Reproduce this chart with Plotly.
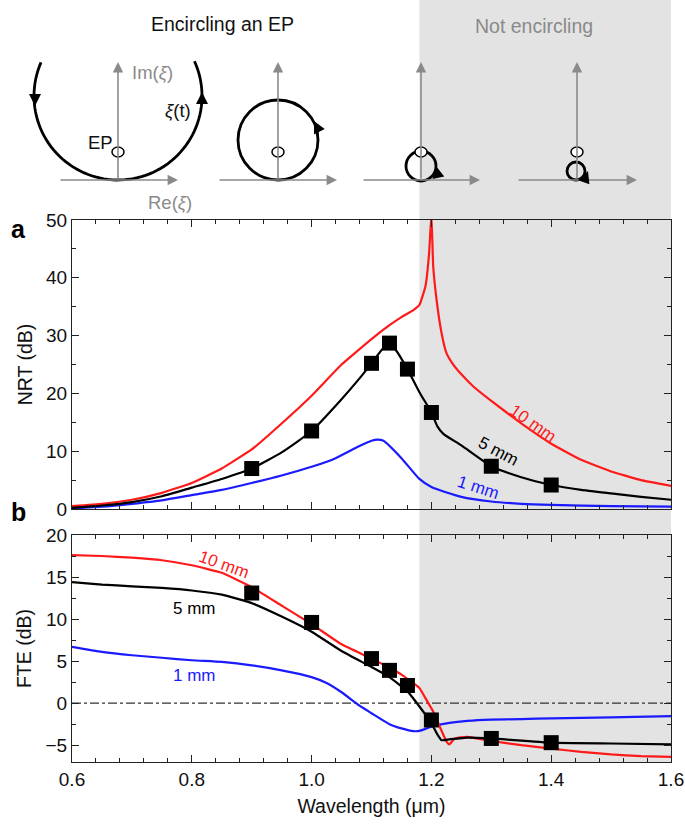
import numpy as np
import plotly.graph_objects as go

# ---- dane: panel a (NRT) ----
lam_red_a = [0.60, 0.65, 0.70, 0.75, 0.80, 0.85, 0.90, 0.95, 1.00, 1.05, 1.10, 1.13, 1.15, 1.17,
             1.18, 1.19, 1.196, 1.200, 1.203, 1.209, 1.217, 1.225, 1.235, 1.25, 1.27, 1.30, 1.35,
             1.40, 1.45, 1.50, 1.55, 1.60]
nrt_red = [0.5, 0.9, 1.6, 2.8, 4.5, 7.0, 10.3, 14.8, 19.6, 25.0, 29.4, 31.8, 33.2, 34.4,
           35.3, 38.5, 44.0, 51.0, 42.0, 35.9, 30.4, 27.0, 25.2, 23.3, 21.2, 18.7, 14.8,
           11.3, 8.5, 6.5, 5.0, 4.0]

lam_blk_a = [0.60, 0.65, 0.70, 0.75, 0.80, 0.85, 0.90, 0.95, 1.00, 1.05, 1.08, 1.10, 1.12, 1.13,
             1.14, 1.16, 1.18, 1.20, 1.21, 1.22, 1.25, 1.30, 1.35, 1.40, 1.45, 1.50, 1.55, 1.60]
nrt_blk = [0.2, 0.6, 1.2, 2.2, 3.7, 5.2, 7.0, 9.8, 13.5, 19.0, 22.6, 25.2, 27.9, 28.6,
           27.6, 24.2, 20.2, 16.7, 14.3, 13.0, 11.0, 7.4, 5.5, 4.15, 3.3, 2.7, 2.1, 1.6]

lam_blu_a = [0.60, 0.65, 0.70, 0.75, 0.80, 0.85, 0.90, 0.95, 1.00, 1.04, 1.08, 1.10, 1.11, 1.12,
             1.15, 1.18, 1.20, 1.25, 1.30, 1.35, 1.40, 1.50, 1.60]
nrt_blu = [0.1, 0.4, 0.9, 1.5, 2.4, 3.3, 4.5, 5.8, 7.3, 8.8, 10.9, 11.8, 12.0, 11.8,
           8.8, 5.2, 3.8, 2.1, 1.3, 0.9, 0.7, 0.5, 0.4]

# ---- dane: panel b (FTE) ----
lam_red_b = [0.60, 0.65, 0.70, 0.75, 0.80, 0.85, 0.90, 0.95, 1.00, 1.05, 1.10, 1.13, 1.15, 1.18,
             1.19, 1.203, 1.214, 1.2255, 1.23, 1.239, 1.26, 1.30, 1.35, 1.40, 1.45, 1.50, 1.55, 1.60]
fte_red = [17.6, 17.5, 17.3, 17.0, 16.4, 15.5, 13.8, 11.6, 9.4, 7.0, 5.3, 4.2, 3.4, 1.8,
           0.6, -1.0, -2.8, -4.6, -4.9, -4.2, -4.0, -4.5, -5.0, -5.4, -5.8, -6.1, -6.3, -6.4]

lam_blk_b = [0.60, 0.65, 0.70, 0.75, 0.80, 0.85, 0.90, 0.95, 1.00, 1.05, 1.10, 1.13, 1.16, 1.18,
             1.20, 1.209, 1.217, 1.23, 1.26, 1.30, 1.40, 1.50, 1.60]
fte_blk = [14.4, 14.1, 13.9, 13.7, 13.4, 12.9, 11.9, 10.3, 8.5, 6.2, 4.3, 3.1, 1.4, -0.4,
           -2.4, -3.6, -4.4, -4.3, -4.1, -4.2, -4.7, -4.8, -4.9]

lam_blu_b = [0.60, 0.65, 0.70, 0.75, 0.80, 0.85, 0.90, 0.95, 1.00, 1.025, 1.05, 1.08, 1.10, 1.13,
             1.15, 1.17, 1.18, 1.20, 1.23, 1.26, 1.30, 1.35, 1.40, 1.50, 1.60]
fte_blu = [6.7, 6.1, 5.7, 5.4, 5.1, 4.9, 4.5, 3.9, 3.1, 2.4, 1.3, -0.3, -1.2, -2.5,
           -3.0, -3.33, -3.3, -2.8, -2.35, -2.1, -1.95, -1.9, -1.8, -1.7, -1.55]

# pomiary (kwadraty)
lam_meas = [0.9, 1.0, 1.1, 1.13, 1.16, 1.2, 1.3, 1.4]
nrt_meas = [7.0, 13.5, 25.2, 28.7, 24.2, 16.7, 7.4, 4.15]
fte_meas = [13.1, 9.6, 5.3, 3.9, 2.1, -2.0, -4.2, -4.7]

x_ticks = [0.6, 0.8, 1.0, 1.2, 1.4, 1.6]
shade_from = 1.18

RED = "#ff1a1a"
BLUE = "#1a1aff"
GRAY = "#8a8a8a"
FONT = "Liberation Sans, Arial, sans-serif"

W, H = 685, 827
ML, MR, MT, MB = 72, 14, 0, 65
PW = W - ML - MR
PH = H - MT - MB


def px(x):
    # piksel -> paper (poziomo)
    return (x - ML) / PW


def py(y):
    # piksel -> paper (pionowo)
    return (PH + MT - y) / PH


fig = go.Figure()

# panel a
fig.add_trace(go.Scatter(x=lam_red_a, y=nrt_red, mode="lines",
                         line=dict(color=RED, width=2.2, shape="spline", smoothing=0.3),
                         xaxis="x2", yaxis="y2"))
fig.add_trace(go.Scatter(x=lam_blu_a, y=nrt_blu, mode="lines",
                         line=dict(color=BLUE, width=2.2, shape="spline", smoothing=0.6),
                         xaxis="x2", yaxis="y2"))
fig.add_trace(go.Scatter(x=lam_blk_a, y=nrt_blk, mode="lines",
                         line=dict(color="black", width=2.2, shape="spline", smoothing=0.5),
                         xaxis="x2", yaxis="y2"))
fig.add_trace(go.Scatter(x=lam_meas, y=nrt_meas, mode="markers",
                         marker=dict(symbol="square", size=15, color="black"),
                         xaxis="x2", yaxis="y2"))

# panel b
fig.add_trace(go.Scatter(x=[0.6, 1.6], y=[0, 0], mode="lines",
                         line=dict(color="#333333", width=1.2, dash="dashdot")))
fig.add_trace(go.Scatter(x=lam_blu_b, y=fte_blu, mode="lines",
                         line=dict(color=BLUE, width=2.2, shape="spline", smoothing=0.5)))
fig.add_trace(go.Scatter(x=lam_red_b, y=fte_red, mode="lines",
                         line=dict(color=RED, width=2.2, shape="spline", smoothing=0.4)))
fig.add_trace(go.Scatter(x=lam_blk_b, y=fte_blk, mode="lines",
                         line=dict(color="black", width=2.2, shape="spline", smoothing=0.4)))
fig.add_trace(go.Scatter(x=lam_meas, y=fte_meas, mode="markers",
                         marker=dict(symbol="square", size=15, color="black")))

shapes = []
annotations = []

# szare tlo "Not encircling"
shapes.append(dict(type="rect", xref="x", yref="paper", x0=shade_from, x1=1.6 + 2 / PW,
                   y0=0, y1=1, fillcolor="#e3e3e3", line=dict(width=0), layer="below"))

# ---- schematy na gorze ----
# (os_x0, os_x1, os_y, os_pion_x, gora_osi)
schem_axes = [(59, 178, 180, 118, 62), (218, 337, 180, 278, 62),
              (362, 480, 180, 421, 62), (517, 637, 180, 577, 62)]
ep_pos = [(118, 152), (278, 152), (421, 152), (577, 152)]
loops = [(278, 140, 40), (421, 166, 15), (576, 171, 9)]

for x0, x1, yy, xv, ytop in schem_axes:
    annotations.append(dict(xref="paper", yref="paper", x=px(x1), y=py(yy), ax=x0 - x1, ay=0,
                            axref="pixel", ayref="pixel", text="", showarrow=True,
                            arrowhead=2, arrowsize=1.3, arrowwidth=1.6, arrowcolor=GRAY))
    annotations.append(dict(xref="paper", yref="paper", x=px(xv), y=py(ytop), ax=0, ay=yy - ytop,
                            axref="pixel", ayref="pixel", text="", showarrow=True,
                            arrowhead=2, arrowsize=1.3, arrowwidth=1.6, arrowcolor=GRAY))

# duzy luk wokol EP
cx, cy, r = 118, 96, 84
th = np.radians(np.linspace(-24.4, 203.6, 80))
pts = [(px(cx + r * np.cos(t)), py(cy + r * np.sin(t))) for t in th]
path = "M " + " L ".join(f"{a:.5f},{b:.5f}" for a, b in pts)
shapes.append(dict(type="path", xref="paper", yref="paper", path=path,
                   line=dict(color="black", width=2.8)))

for cx, cy, r in loops:
    shapes.append(dict(type="circle", xref="paper", yref="paper",
                       x0=px(cx - r), x1=px(cx + r), y0=py(cy + r), y1=py(cy - r),
                       line=dict(color="black", width=2.8)))

for ex, ey in ep_pos:
    shapes.append(dict(type="circle", xref="paper", yref="paper",
                       x0=px(ex - 6), x1=px(ex + 6), y0=py(ey + 5), y1=py(ey - 5),
                       fillcolor="white", line=dict(color="black", width=1.5)))

# strzalki kierunku na petlach: (x, y, ax, ay)
loop_arrows = [(35, 106, 0, -12), (202, 92, 0, 12), (314, 121, 5, 10),
               (436, 166, 2, 10), (588, 171, -3, 8)]
for x, y, dx, dy in loop_arrows:
    annotations.append(dict(xref="paper", yref="paper", x=px(x), y=py(y), ax=dx, ay=dy,
                            axref="pixel", ayref="pixel", text="", showarrow=True,
                            arrowhead=2, arrowsize=1.2, arrowwidth=2, arrowcolor="black"))

txt = [
    ("Encircling an EP", 222, 24, 19.5, "#111111"),
    ("Not encircling", 534, 26, 19.5, GRAY),
    ("Im(<i>ξ</i>)", 152, 72, 18.5, GRAY),
    ("Re(<i>ξ</i>)", 170, 202, 18.5, GRAY),
    ("<i>ξ</i>(t)", 178, 111, 18.5, "#111111"),
    ("EP", 100, 143, 18.5, "#111111"),
]
for t, x, y, s, c in txt:
    annotations.append(dict(xref="paper", yref="paper", x=px(x), y=py(y), text=t,
                            showarrow=False, font=dict(size=s, color=c, family=FONT),
                            xanchor="center", yanchor="middle"))

# etykiety krzywych
curve_labels = [
    ("10 mm", 1.370, 14.8, 35, RED, "x2", "y2"),
    ("5 mm", 1.312, 9.9, 28, "black", "x2", "y2"),
    ("1 mm", 1.278, 3.75, 18, BLUE, "x2", "y2"),
    ("10 mm", 0.853, 16.5, 20, RED, "x", "y"),
    ("5 mm", 0.805, 11.2, 0, "black", "x", "y"),
    ("1 mm", 0.805, 3.3, 0, BLUE, "x", "y"),
]
for t, x, y, ang, c, xr, yr in curve_labels:
    annotations.append(dict(xref=xr, yref=yr, x=x, y=y, text=t, textangle=ang, showarrow=False,
                            font=dict(size=17, color=c, family=FONT)))

# litery paneli
annotations.append(dict(xref="paper", yref="paper", x=px(9), y=py(213), text="<b>a</b>",
                        showarrow=False, font=dict(size=25, color="black", family=FONT)))
annotations.append(dict(xref="paper", yref="paper", x=px(9), y=py(528), text="<b>b</b>",
                        showarrow=False, font=dict(size=25, color="black", family=FONT)))

axis_common = dict(showline=True, linecolor="#222222", linewidth=1.2, mirror="allticks",
                   ticks="inside", ticklen=7, tickwidth=1.2, tickcolor="#222222",
                   showgrid=False, zeroline=False, automargin=False,
                   ticklabeloverflow="allow",
                   tickfont=dict(size=19, color="#111111", family=FONT))

fig.update_layout(
    width=W, height=H,
    margin=dict(l=ML, r=MR, t=MT, b=MB, autoexpand=False),
    paper_bgcolor="white", plot_bgcolor="rgba(0,0,0,0)",
    showlegend=False,
    font=dict(family=FONT, color="#111111"),
    xaxis=dict(domain=[0, 1], anchor="y", range=[0.6, 1.6], tickvals=x_ticks,
               ticktext=[f"{v:.1f}" for v in x_ticks],
               minor=dict(dtick=0.04, tick0=0.6, ticks="inside", ticklen=4, tickcolor="#222222"),
               title=dict(text="Wavelength (μm)", font=dict(size=19.5), standoff=10),
               **axis_common),
    yaxis=dict(domain=[0, (PH - 535) / PH], anchor="x", range=[-7, 20], tickvals=[-5, 0, 5, 10, 15, 20],
               minor=dict(dtick=2.5, tick0=0, ticks="inside", ticklen=4, tickcolor="#222222"),
               title=dict(text="FTE (dB)", font=dict(size=19.5), standoff=8),
               **axis_common),
    xaxis2=dict(domain=[0, 1], anchor="y2", range=[0.6, 1.6], tickvals=x_ticks,
                showticklabels=False,
                minor=dict(dtick=0.04, tick0=0.6, ticks="inside", ticklen=4, tickcolor="#222222"),
                **axis_common),
    yaxis2=dict(domain=[(PH - 509) / PH, (PH - 220) / PH], anchor="x2", range=[0, 50],
                tickvals=[0, 10, 20, 30, 40, 50],
                minor=dict(dtick=5, tick0=0, ticks="inside", ticklen=4, tickcolor="#222222"),
                title=dict(text="NRT (dB)", font=dict(size=19.5), standoff=8),
                **axis_common),
    shapes=shapes,
    annotations=annotations,
)

# strona bez domyslnego marginesu body, zeby wykres lezal w (0,0)
fig.write_html("out.html", config={"displayModeBar": False},
               post_script="document.body.style.margin='0';")
